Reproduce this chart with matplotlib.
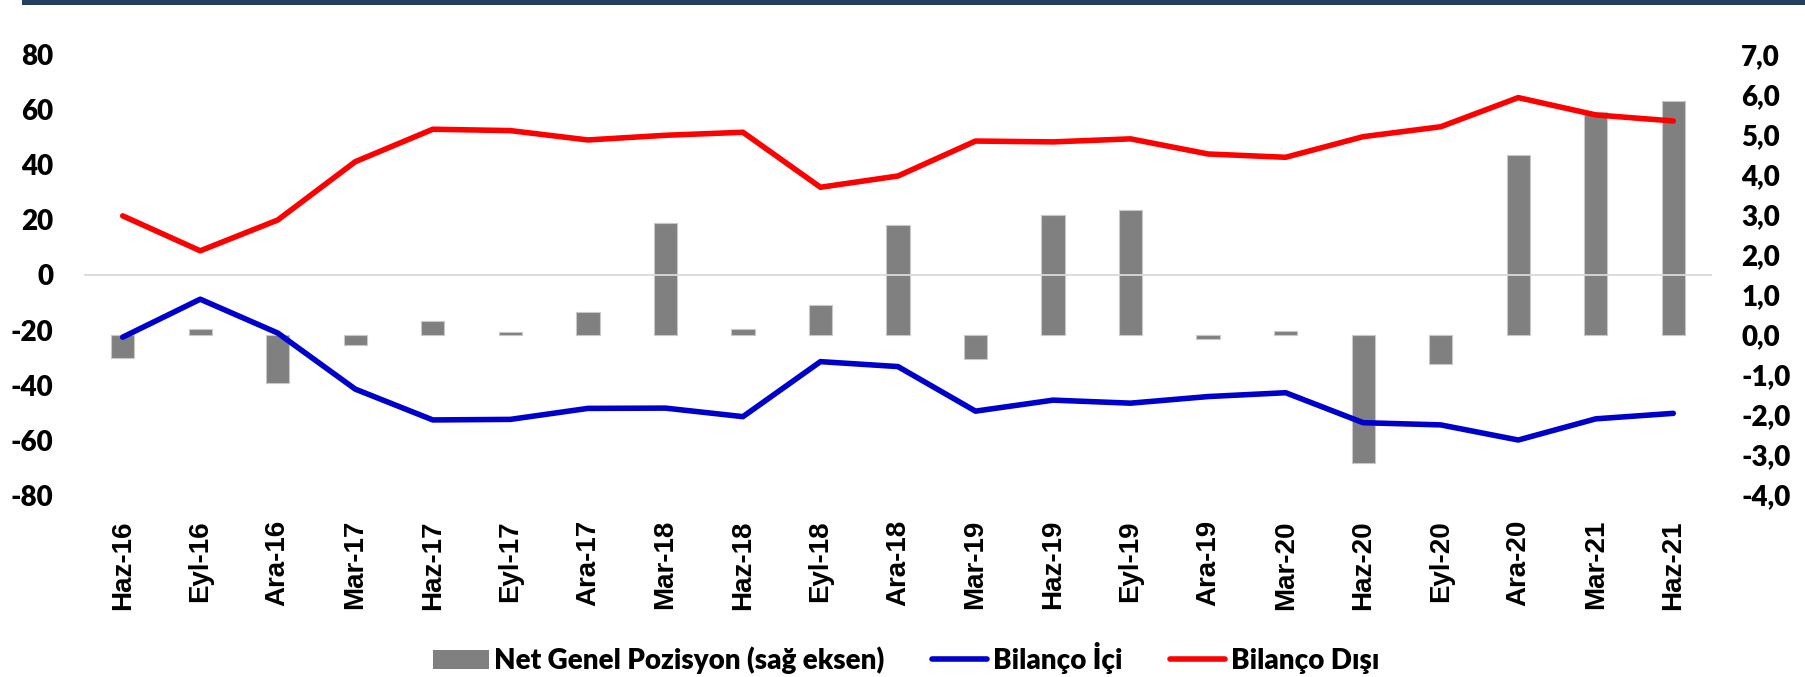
import matplotlib.pyplot as plt
from matplotlib.patches import Rectangle, Patch
from matplotlib.lines import Line2D
from matplotlib.ticker import FuncFormatter

plt.rcParams['axes.unicode_minus'] = False

# ----------------------------------------------------------------------------
# Data
# ----------------------------------------------------------------------------
categories = ['Haz-16', 'Eyl-16', 'Ara-16', 'Mar-17', 'Haz-17', 'Eyl-17', 'Ara-17',
              'Mar-18', 'Haz-18', 'Eyl-18', 'Ara-18', 'Mar-19', 'Haz-19', 'Eyl-19',
              'Ara-19', 'Mar-20', 'Haz-20', 'Eyl-20', 'Ara-20', 'Mar-21', 'Haz-21']

# Net Genel Pozisyon (right axis)
net_genel = [-0.57, 0.14, -1.20, -0.24, 0.36, 0.08, 0.58, 2.80, 0.14, 0.76, 2.75,
             -0.61, 3.00, 3.12, -0.11, 0.11, -3.21, -0.73, 4.50, 5.58, 5.84]

# Bilanço İçi / Bilanço Dışı (left axis)
bilanco_ici = [-22.6, -8.8, -21.1, -41.5, -52.7, -52.5, -48.5, -48.4, -51.5, -31.5,
               -33.3, -49.5, -45.5, -46.6, -44.2, -42.8, -53.7, -54.5, -60.0, -52.3, -50.3]
bilanco_disi = [21.5, 8.8, 20.0, 41.2, 53.0, 52.5, 49.1, 50.8, 51.9, 31.9,
                36.0, 48.7, 48.4, 49.5, 44.0, 42.8, 50.3, 53.9, 64.5, 58.2, 56.0]

left_ticks = [-80, -60, -40, -20, 0, 20, 40, 60, 80]
right_ticks = [-4, -3, -2, -1, 0, 1, 2, 3, 4, 5, 6, 7]

# ----------------------------------------------------------------------------
# Figure
# ----------------------------------------------------------------------------
fig = plt.figure(figsize=(18.05, 6.77), dpi=100)

# dark band at the top
fig.patches.append(Rectangle((22 / 1805, 1 - 5 / 677), 1, 5 / 677,
                             transform=fig.transFigure, facecolor='#243f60',
                             edgecolor='none'))

ax1 = fig.add_axes([0.0465, 0.2688, 0.902, 0.65])
ax2 = ax1.twinx()

x = list(range(len(categories)))

# bars on the right axis
ax2.bar(x, net_genel, width=0.3, color='#808080', edgecolor='#c8c8c8', linewidth=0.8)

# lines on the left axis, drawn above the bars
ax1.set_zorder(ax2.get_zorder() + 1)
ax1.patch.set_visible(False)
ax1.axhline(0, color='#d9d9d9', linewidth=1.3, zorder=1)
ax1.plot(x, bilanco_ici, color='#0000cc', linewidth=4, solid_capstyle='round', zorder=3)
ax1.plot(x, bilanco_disi, color='#ff0000', linewidth=4, solid_capstyle='round', zorder=3)

ax1.set_xlim(-0.5, len(categories) - 0.5)
ax1.set_ylim(-80, 80)
ax2.set_ylim(-4, 7)

ax1.set_yticks(left_ticks)
ax2.set_yticks(right_ticks)
ax2.yaxis.set_major_formatter(FuncFormatter(lambda v, p: f'{v:.1f}'.replace('.', ',')))

ax1.set_xticks(x)
ax1.set_xticklabels(categories, rotation=90, fontfamily='Liberation Sans',
                    fontweight='bold', fontsize=20)

for lab in ax1.get_yticklabels() + ax2.get_yticklabels():
    lab.set_fontfamily('Lato')
    lab.set_fontweight('heavy')
    lab.set_fontsize(20)

ax1.tick_params(axis='y', length=0, pad=22)
ax2.tick_params(axis='y', length=0, pad=21)
ax1.tick_params(axis='x', length=0, pad=18)

for ax in (ax1, ax2):
    for s in ax.spines.values():
        s.set_visible(False)

# legend
handles = [Patch(facecolor='#808080', edgecolor='none'),
           Line2D([0], [0], color='#0000cc', linewidth=4, solid_capstyle='round'),
           Line2D([0], [0], color='#ff0000', linewidth=4, solid_capstyle='round')]
labels = ['Net Genel Pozisyon (sağ eksen)', 'Bilanço İçi', 'Bilanço Dışı']
fig.legend(handles, labels, loc='center', bbox_to_anchor=(0.502, 0.028), ncol=3,
           frameon=False, prop={'family': 'Lato', 'weight': 'heavy', 'size': 20},
           handlelength=2.0, handletextpad=0.2, columnspacing=1.7)

fig.savefig('out.png', dpi=100)
